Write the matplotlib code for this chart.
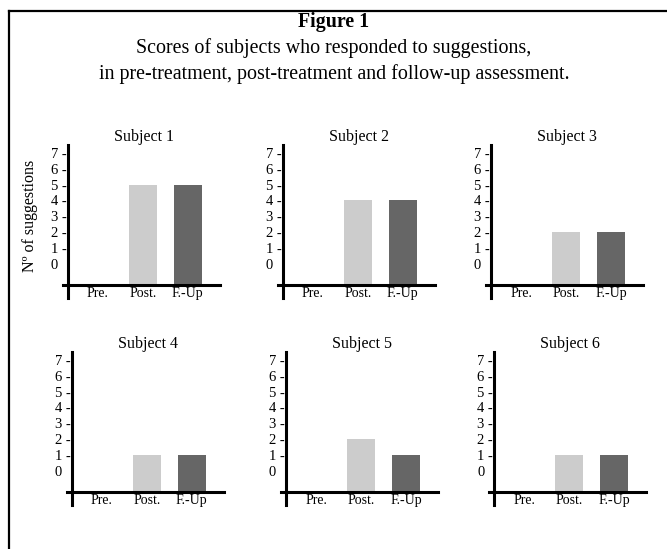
import matplotlib
matplotlib.use("Agg")
import matplotlib.pyplot as plt
from matplotlib.lines import Line2D
import numpy as np

plt.rcParams['font.family'] = ['Liberation Serif', 'DejaVu Serif']

subjects = ["Subject 1", "Subject 2", "Subject 3", "Subject 4", "Subject 5", "Subject 6"]
phases = ["Pre.", "Post.", "F.-Up"]
pre = [0, 0, 0, 0, 0, 0]
post = [5, 4, 2, 1, 2, 1]
followup = [5, 4, 2, 1, 1, 1]
ytick_values = [0, 1, 2, 3, 4, 5, 6, 7]
ytick_labels = ["0", "1 -", "2 -", "3 -", "4 -", "5 -", "6 -", "7 -"]
bar_colors = ["#cccccc", "#cccccc", "#666666"]

W, H = 667, 549
fig = plt.figure(figsize=(W / 100, H / 100), dpi=100)

# frame (top and left lines)
fig.add_artist(Line2D([9 / W, 9 / W], [0, 1 - 11 / H], color="black", lw=1.6, transform=fig.transFigure))
fig.add_artist(Line2D([9 / W, 1], [1 - 11 / H, 1 - 11 / H], color="black", lw=1.6, transform=fig.transFigure))

fig.text(334 / W, 1 - 22 / H, "Figure 1", ha="center", va="center", fontsize=14.3, fontweight="bold")
fig.text(334 / W, 1 - 48 / H, "Scores of subjects who responded to suggestions,", ha="center", va="center", fontsize=14.4)
fig.text(334 / W, 1 - 74 / H, "in pre-treatment, post-treatment and follow-up assessment.", ha="center", va="center", fontsize=14.4)

lefts = [67.7, 282.7, 491, 71.7, 286, 494.3]
bottoms = [251, 251, 251, 44, 44, 44]
ax_w, ax_h = 152, 153
base = -1.33
x = np.arange(len(phases))

for i, name in enumerate(subjects):
    ax = fig.add_axes([lefts[i] / W, bottoms[i] / H, ax_w / W, ax_h / H])
    vals = np.array([pre[i], post[i], followup[i]], dtype=float)
    heights = np.where(vals > 0, vals - base, 0)
    ax.bar(x, heights, bottom=base, width=0.62, color=bar_colors, edgecolor="none")
    ax.set_xlim(-0.667, 2.71)
    ax.set_ylim(-2.12, 7.48)
    for s in ["top", "right"]:
        ax.spines[s].set_visible(False)
    ax.spines["left"].set_linewidth(2.2)
    ax.spines["bottom"].set_linewidth(2.2)
    ax.spines["bottom"].set_position(("data", base))
    ax.spines["bottom"].set_bounds(-0.78, 2.71)
    ax.spines["bottom"].set_clip_on(False)
    ax.set_xticks(x)
    ax.set_xticklabels(phases, fontsize=10)
    ax.tick_params(axis="x", length=0, pad=1.2)
    ax.set_yticks(ytick_values)
    ax.set_yticklabels(ytick_labels, fontsize=10.5)
    ax.tick_params(axis="y", length=0, pad=12.3)
    for lab in ax.get_yticklabels():
        lab.set_horizontalalignment("left")
    ax.set_title(name, fontsize=11.5, pad=0.5)
    ax.patch.set_visible(False)

fig.text(30 / W, 1 - 216 / H, "Nº of suggestions", rotation=90, ha="center", va="center", fontsize=11.5)

fig.savefig("out.png", dpi=100)
